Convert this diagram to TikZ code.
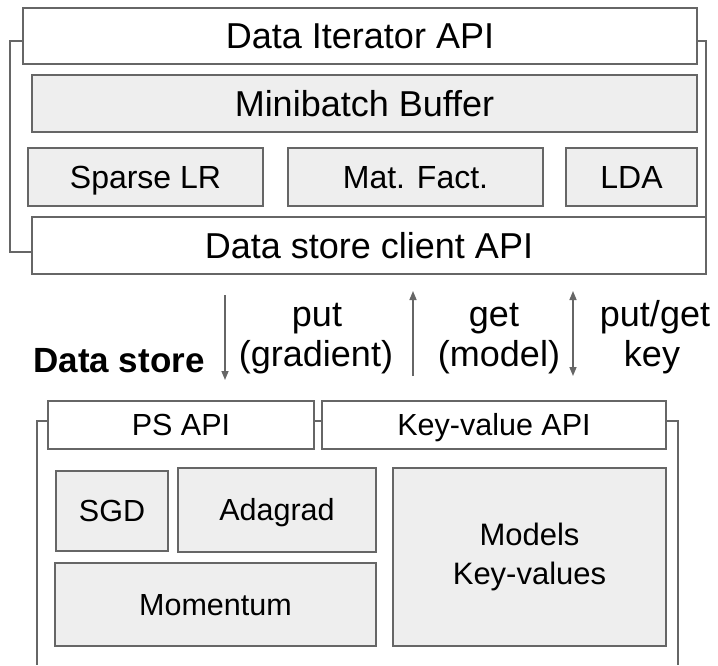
\documentclass[tikz,border=0pt]{standalone}
\usepackage{fontspec}
\setmainfont{Liberation Sans}
\usetikzlibrary{arrows.meta}
\definecolor{boxline}{HTML}{666666}
\definecolor{boxfill}{HTML}{EEEEEE}
\definecolor{arrowcol}{HTML}{666666}
\newcommand{\fsz}[1]{\fontsize{#1pt}{#1pt}\selectfont}
\begin{document}
\begin{tikzpicture}[x=1pt,y=-1pt,
  whitebox/.style={draw=boxline, fill=white, line width=1.5pt, inner sep=0pt, outer sep=0pt, align=center},
  graybox/.style={draw=boxline, fill=boxfill, line width=1.5pt, inner sep=0pt, outer sep=0pt, align=center},
  bigtext/.style={font=\fsz{36}, text height=25.8pt, text depth=0pt},
  midtext/.style={font=\fsz{32}, text height=22.9pt, text depth=0pt},
  lowtext/.style={font=\fsz{30.5}, text height=21.8pt, text depth=0pt},
  lbl/.style={font=\fsz{36}, anchor=base, inner sep=0pt},
  bracket/.style={draw=boxline, line width=1.5pt},
  flow/.style={draw=arrowcol, line width=1.5pt},
  tip/.style={-{Triangle[length=9pt,width=7pt]}}
]
\useasboundingbox (0,0) rectangle (718,665);

% ---------- top stack ----------
\node[whitebox, bigtext, minimum width=674pt, minimum height=56pt] (dia) at (360,36) {Data Iterator API};
\node[graybox, bigtext, minimum width=665pt, minimum height=57pt] (mb) at (364.5,103.5) {Minibatch Buffer};
\node[graybox, midtext, minimum width=235pt, minimum height=58pt] (slr) at (145.5,177) {Sparse LR};
\node[graybox, midtext, minimum width=255pt, minimum height=58pt] (mf) at (415.5,177) {Mat. Fact.};
\node[graybox, midtext, minimum width=131pt, minimum height=58pt] (lda) at (631.5,177) {LDA};
\node[whitebox, bigtext, minimum width=674pt, minimum height=57pt] (dsc) at (369,245.5) {Data store client API};

\coordinate (tl1) at (10,41);
\coordinate (tl2) at (10,252);
\coordinate (tr1) at (706,41);
\draw[bracket] (dia.west |- tl1) -- (tl1) -- (tl2) -- (dsc.west |- tl2);
\draw[bracket] (dia.east |- tr1) -- (tr1) -- (dsc.north east);

% ---------- middle ----------
\node[lbl, font=\fsz{35}\bfseries] (ds) at (119,372) {Data store};
\coordinate (a1s) at (225,295);
\coordinate (a1e) at (225,380);
\coordinate (a2s) at (413,376);
\coordinate (a2e) at (413,291);
\coordinate (a3s) at (573,376);
\coordinate (a3e) at (573,291);
\draw[flow, tip] (a1s) -- (a1e);
\draw[flow, tip] (a2s) -- (a2e);
\draw[flow, {Triangle[length=9pt,width=7pt]}-{Triangle[length=9pt,width=7pt]}] (a3s) -- (a3e);

\node[lbl] (put) at (317,326) {put};
\node[lbl] (grad) at (316,366) {(gradient)};
\node[lbl] (get) at (494,326) {get};
\node[lbl] (model) at (499,366) {(model)};
\node[lbl] (pg) at (655,326) {put/get};
\node[lbl] (key) at (652,366) {key};

% ---------- bottom stack ----------
\node[whitebox, lowtext, minimum width=266pt, minimum height=48pt] (ps) at (181,425) {PS API};
\node[whitebox, lowtext, minimum width=344pt, minimum height=48pt] (kv) at (494,425) {Key-value API};
\node[graybox, lowtext, minimum width=112pt, minimum height=80pt] (sgd) at (112,511) {SGD};
\node[graybox, lowtext, minimum width=198pt, minimum height=84pt] (ada) at (277,510) {Adagrad};
\node[graybox, lowtext, minimum width=321pt, minimum height=83pt] (mom) at (215.5,604.5) {Momentum};
\node[graybox, font=\fsz{31}, minimum width=273pt, minimum height=178pt] (mod) at (529.5,557) {Models\\[8pt]Key-values};

\coordinate (bl1) at (37,421);
\coordinate (bl2) at (37,665);
\coordinate (br1) at (678,421);
\coordinate (br2) at (678,665);
\draw[bracket] (ps.west |- bl1) -- (bl1) -- (bl2);
\draw[bracket] (kv.east |- br1) -- (br1) -- (br2);
\draw[bracket] (ps.east |- bl1) -- (kv.west |- bl1);
\end{tikzpicture}
\end{document}
